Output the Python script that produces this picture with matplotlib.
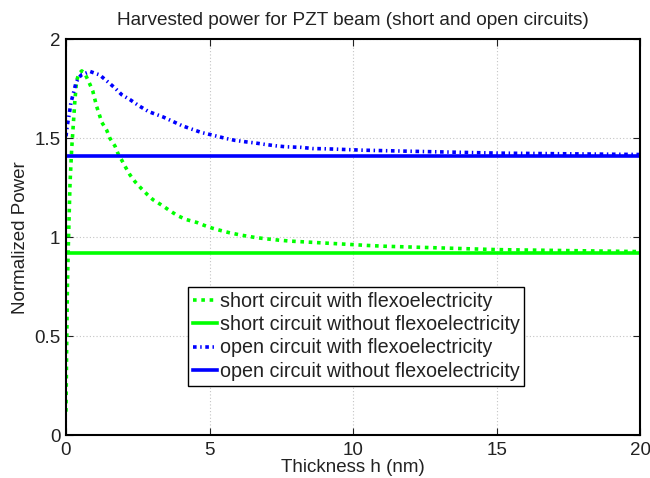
import matplotlib
matplotlib.use('Agg')
import matplotlib.pyplot as plt
import numpy as np

plt.rcParams['font.family'] = ['Liberation Sans', 'DejaVu Sans']

# values (thickness h in nm, normalized power)
h_short = [0.0, 0.02, 0.05, 0.08, 0.1, 0.14, 0.2, 0.26, 0.31, 0.37, 0.45, 0.55, 0.66,
           0.81, 0.93, 1.07, 1.25, 1.42, 1.53, 1.71, 1.82, 1.94, 2.09, 2.23, 2.41,
           2.6, 2.84, 3.03, 3.36, 3.62, 3.88, 4.18, 4.56, 4.82, 5.1, 5.4, 5.7, 6.0,
           6.3, 6.6, 7.0, 7.4, 7.8, 8.3, 8.9, 9.9, 10.5, 11.1, 15.0, 20.0]
p_short = [0.12, 0.4, 0.75, 0.95, 1.055, 1.27, 1.45, 1.58, 1.69, 1.79, 1.826, 1.84,
           1.826, 1.78, 1.74, 1.66, 1.58, 1.54, 1.50, 1.46, 1.42, 1.39, 1.35, 1.315,
           1.28, 1.25, 1.215, 1.19, 1.16, 1.134, 1.11, 1.09, 1.075, 1.06, 1.046,
           1.034, 1.023, 1.014, 1.006, 0.999, 0.992, 0.986, 0.981, 0.977, 0.972,
           0.964, 0.959, 0.955, 0.938, 0.928]

h_open = [0.0, 0.05, 0.12, 0.17, 0.26, 0.34, 0.43, 0.55, 0.84, 1.17, 1.44, 1.71,
          1.94, 2.24, 2.54, 2.87, 3.39, 3.72, 4.05, 4.38, 4.72, 5.1, 5.57, 5.9,
          6.26, 6.6, 6.93, 7.3, 7.65, 8.2, 8.59, 9.0, 9.4, 9.94, 10.3, 11.2, 15.0, 20.0]
p_open = [1.51, 1.568, 1.627, 1.678, 1.728, 1.775, 1.804, 1.821, 1.837, 1.82, 1.787,
          1.753, 1.72, 1.694, 1.664, 1.635, 1.607, 1.585, 1.563, 1.546, 1.529,
          1.516, 1.499, 1.489, 1.482, 1.476, 1.469, 1.462, 1.457, 1.454, 1.448,
          1.447, 1.445, 1.442, 1.44, 1.437, 1.425, 1.418]

h_flat = [0.0, 20.0]
p_short_flat = [0.922, 0.922]
p_open_flat = [1.408, 1.408]

fig = plt.figure(figsize=(6.5, 4.78), dpi=100)
ax = fig.add_axes([0.1015, 0.089, 0.8835, 0.829])

green = (0, 1, 0)
blue = (0, 0, 1)
txt = '#222222'

ax.plot(h_short, p_short, color=green, lw=2.6, linestyle=(0, (1.0, 1.3)),
        label='short circuit with flexoelectricity')
ax.plot(h_flat, p_short_flat, color=green, lw=2.6,
        label='short circuit without flexoelectricity')
ax.plot(h_open, p_open, color=blue, lw=2.6, linestyle=(0, (1.0, 1.0, 0.4, 1.0)),
        label='open circuit with flexoelectricity')
ax.plot(h_flat, p_open_flat, color=blue, lw=2.6,
        label='open circuit without flexoelectricity')

ax.set_xlim(0, 20)
ax.set_ylim(0, 2)
ax.set_xticks([0, 5, 10, 15, 20])
ax.set_yticks([0, 0.5, 1, 1.5, 2])
ax.set_yticklabels(['0', '0.5', '1', '1.5', '2'])
ax.tick_params(direction='in', top=True, right=True, labelsize=13.5, length=5,
               width=0.8, colors=txt)
ax.tick_params(axis='x', pad=5)
ax.tick_params(axis='y', pad=4)
ax.grid(True, color='#c4c4c4', linestyle=(0, (1, 2)), lw=0.8)
for s in ax.spines.values():
    s.set_linewidth(1.5)
    s.set_color('black')

ax.set_title('Harvested power for PZT beam (short and open circuits)',
             fontsize=13.7, color=txt, pad=10)
ax.set_xlabel('Thickness h (nm)', fontsize=13.5, color=txt, labelpad=0)
ax.set_ylabel('Normalized Power', fontsize=13.5, color=txt, labelpad=4)

leg = ax.legend(loc='upper left', bbox_to_anchor=(0.212, 0.375), fontsize=14.2,
                frameon=True, fancybox=False, edgecolor='black', framealpha=1,
                handlelength=1.25, handletextpad=0.12, labelspacing=0.22,
                borderpad=0.25, borderaxespad=0)
leg.get_frame().set_linewidth(1.0)
for t in leg.get_texts():
    t.set_color(txt)

fig.savefig('out.png', dpi=100)
